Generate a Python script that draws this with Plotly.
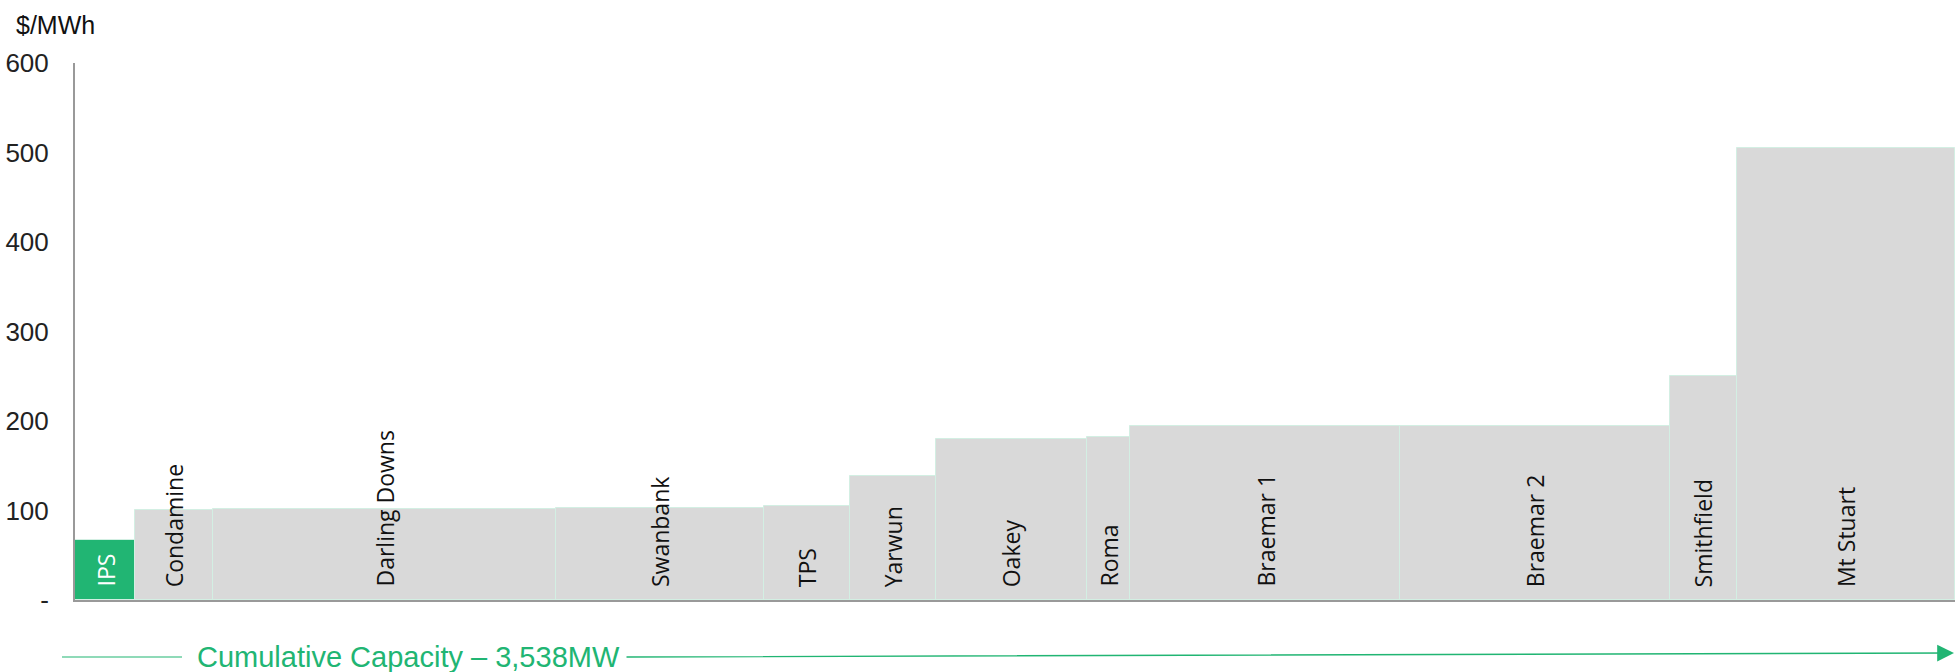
import plotly.graph_objects as go

plants = ["IPS", "Condamine", "Darling Downs", "Swanbank", "TPS", "Yarwun",
          "Oakey", "Roma", "Braemar 1", "Braemar 2", "Smithfield", "Mt Stuart"]
capacity_mw = [113, 146, 647, 390, 162, 162, 284, 82, 507, 508, 127, 410]
price = [67, 101, 102, 103, 105, 138, 180, 182, 194, 194, 250, 505]
y_ticks = [0, 100, 200, 300, 400, 500, 600]
y_tick_text = ["-", "100", "200", "300", "400", "500", "600"]
total_label = "Cumulative Capacity – 3,538MW"

GREEN = "#21b573"
GREY = "#d9d9d9"

starts = []
acc = 0
for c in capacity_mw:
    starts.append(acc)
    acc += c
centers = [s + c / 2 for s, c in zip(starts, capacity_mw)]
total = acc

colors = [GREEN] + [GREY] * (len(plants) - 1)

fig = go.Figure()
fig.add_trace(go.Bar(
    x=centers, y=price, width=capacity_mw, base=0,
    marker=dict(color=colors, line=dict(color="#d3efe3", width=1)),
    hoverinfo="skip", showlegend=False,
))

for i, name in enumerate(plants):
    fig.add_annotation(
        x=centers[i], y=0, xref="x", yref="y", text=name, showarrow=False,
        textangle=-90, yanchor="bottom", xanchor="center", yshift=11,
        font=dict(family="Open Sans", size=23, color="white" if i == 0 else "#111111"),
    )

W = 1955
L = 75
PW = W - L
PT = 63
PB = 600
PH = PB - PT

def px(xp):
    return (xp - L) / PW

def py(yp):
    return (PB - yp) / PH

# axis unit label
fig.add_annotation(x=px(14), y=py(25), xref="paper", yref="paper", text="$/MWh",
                   showarrow=False, xanchor="left", yanchor="middle",
                   font=dict(family="Liberation Sans", size=25, color="#111111"))

# cumulative capacity label and arrow
fig.add_annotation(x=px(408), y=py(657), xref="paper", yref="paper", text=total_label,
                   showarrow=False, xanchor="center", yanchor="middle",
                   font=dict(family="Liberation Sans", size=29, color=GREEN))
fig.add_shape(type="line", xref="paper", yref="paper", x0=px(62), x1=px(182),
              y0=py(657), y1=py(657), line=dict(color=GREEN, width=1.2))
fig.add_annotation(x=px(1954), y=py(653), xref="paper", yref="paper", text="",
                   showarrow=True, ax=-(1954 - 625), ay=4, axref="pixel", ayref="pixel",
                   arrowhead=2, arrowsize=2.4, arrowwidth=1.4, arrowcolor=GREEN)

fig.update_layout(
    width=W, height=672,
    margin=dict(l=L, r=0, t=PT, b=672 - PB),
    plot_bgcolor="white", paper_bgcolor="white",
    bargap=0,
    xaxis=dict(range=[0, total], showticklabels=False, showgrid=False, zeroline=False,
               showline=True, linecolor="#999999", linewidth=2, ticks=""),
    yaxis=dict(range=[0, 600], tickvals=y_ticks, ticktext=y_tick_text,
               showgrid=False, zeroline=False, showline=True, linecolor="#999999",
               linewidth=2, ticks="outside", ticklen=19, tickcolor="rgba(0,0,0,0)",
               tickfont=dict(family="Liberation Sans", size=26, color="#222222")),
)

fig.write_html(
    "out.html",
    config={"displayModeBar": False},
    post_script="document.body.style.margin='0';document.body.style.padding='0';"
                "document.body.style.overflow='hidden';",
)
